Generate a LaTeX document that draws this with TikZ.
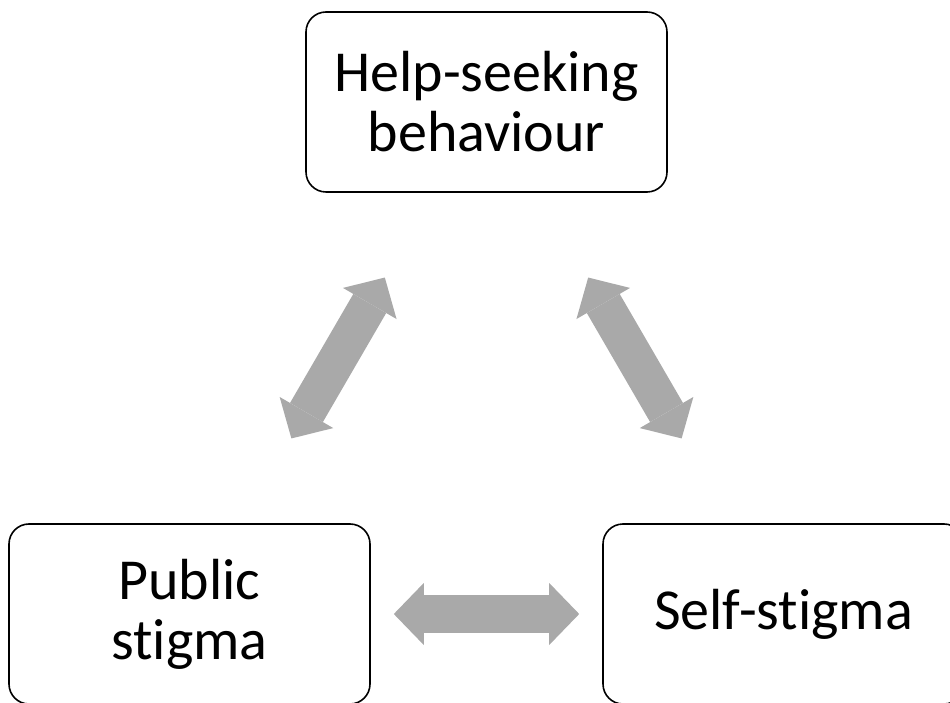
\documentclass[tikz,border=0pt]{standalone}
\usepackage{fontspec}
\setmainfont{Carlito}[Ligatures=NoCommon]
\usepackage{tikz}
\usetikzlibrary{calc,arrows.meta}

\definecolor{arrowgray}{HTML}{A9A9A9}

\begin{document}
\begin{tikzpicture}[x=1pt, y=1pt,
		stigmabox/.style={draw=black, line width=1.6pt, rounded corners=20pt,
			minimum width=361pt, minimum height=180pt, align=center,
			font=\fontsize{58}{60}\selectfont},
		fatarrow/.style={draw=arrowgray, line width=38pt,
			{Triangle[length=30pt,width=62pt,line width=0pt]}-{Triangle[length=30pt,width=62pt,line width=0pt]}}]

		\useasboundingbox ( 0, 0 ) rectangle ( 950, 702 );

		\node[stigmabox, at={( 486.5, 600 )}] (help) {Help-seeking\\behaviour};
		\node[stigmabox, at={( 189.5, 88 )}] (public) {Public\\stigma};
		\node[stigmabox, at={( 783.5, 88 )}] (self) {Self-stigma};

		\draw[fatarrow, shorten <=98pt, shorten >=98pt] (help) -- (public);
		\draw[fatarrow, shorten <=98pt, shorten >=98pt] (help) -- (self);
		\draw[fatarrow, shorten <=23pt, shorten >=23pt] (public) -- (self);

	\end{tikzpicture}
\end{document}
